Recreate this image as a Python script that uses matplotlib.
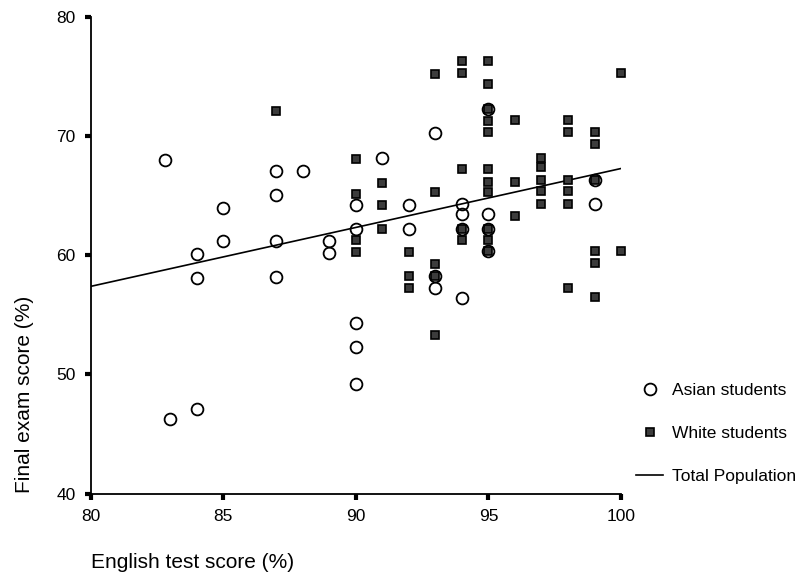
import matplotlib
matplotlib.use("Agg")
import matplotlib.pyplot as plt
import numpy as np

plt.rcParams["font.family"] = ["Liberation Sans", "DejaVu Sans"]

# Asian students (circles)
asian_x = [82.8, 87, 88, 87, 85, 90, 90, 85, 87, 89, 89, 84, 84, 87, 90, 90, 90, 84, 83,
           91, 93, 92, 92, 94, 94, 94, 93, 93, 94, 95, 95, 95, 95, 99, 99]
asian_y = [68.0, 67.1, 67.1, 65.1, 64.0, 64.2, 62.2, 61.2, 61.2, 61.2, 60.2, 60.1, 58.1, 58.2,
           54.3, 52.3, 49.2, 47.1, 46.3, 68.2, 70.3, 64.2, 62.2, 64.3, 63.5, 62.2, 58.3, 57.3,
           56.4, 63.5, 62.2, 60.4, 72.3, 66.3, 64.3]

# White students (squares)
white_x = [87, 90, 90, 90, 90, 91, 91, 91, 92, 92, 92, 93, 93, 93, 93, 93,
           94, 94, 94, 94, 94, 95, 95, 95, 95, 95, 95, 95, 95, 95, 95, 95,
           96, 96, 96, 97, 97, 97, 97, 97, 98, 98, 98, 98, 98, 98,
           99, 99, 99, 99, 99, 99, 100, 100]
white_y = [72.1, 68.1, 65.2, 61.3, 60.3, 66.1, 64.2, 62.2, 60.3, 58.3, 57.3, 75.2, 65.3, 59.3, 58.3, 53.3,
           76.3, 75.3, 67.3, 62.2, 61.3, 76.3, 74.4, 72.3, 71.3, 70.4, 67.3, 66.2, 65.3, 62.2, 61.3, 60.4,
           71.4, 66.2, 63.3, 68.2, 67.4, 66.3, 65.4, 64.3, 71.4, 70.4, 66.3, 65.4, 64.3, 57.3,
           70.4, 69.4, 66.3, 60.4, 59.4, 56.5, 75.3, 60.4]

# total population fit line (end points)
fit_x = [80, 100]
fit_y = [57.4, 67.3]

x_ticks = [80, 85, 90, 95, 100]
y_ticks = [40, 50, 60, 70, 80]

fig = plt.figure(figsize=(8.08, 5.73), dpi=100)
ax = fig.add_axes([0.1123, 0.1387, 0.6563, 0.8311])

ax.plot(white_x, white_y, ls="none", marker="s", ms=5.5, mfc="#3c3c3c", mec="black",
        mew=1.2, clip_on=False, label="White students", zorder=3)
ax.plot(asian_x, asian_y, ls="none", marker="o", ms=8.5, mfc="none", mec="black",
        mew=1.3, clip_on=False, label="Asian students", zorder=4)
ax.plot(fit_x, fit_y, color="black", lw=1.2, label="Total Population", zorder=2)

ax.set_xlim(80, 100)
ax.set_ylim(40, 80)
ax.set_xticks(x_ticks)
ax.set_yticks(y_ticks)
for s in ["top", "right"]:
    ax.spines[s].set_visible(False)
for s in ["left", "bottom"]:
    ax.spines[s].set_linewidth(1.3)
ax.tick_params(direction="out", length=4, width=3, labelsize=12.5, pad=7)

handles, labels = ax.get_legend_handles_labels()
order = [1, 0, 2]
ax.legend([handles[i] for i in order], [labels[i] for i in order],
          loc="upper left", bbox_to_anchor=(627 / 808, 1 - 374 / 573),
          bbox_transform=fig.transFigure, frameon=False, fontsize=12.5,
          borderpad=0, handlelength=1.6, handletextpad=0.5, labelspacing=1.6)

fig.text(25 / 808, 1 - 493 / 573, "Final exam score (%)", rotation=90,
         ha="center", va="bottom", fontsize=15)
fig.text(91 / 808, 1 - 563 / 573, "English test score (%)", ha="left",
         va="center", fontsize=15)

fig.savefig("out.png", dpi=100, facecolor="white")
